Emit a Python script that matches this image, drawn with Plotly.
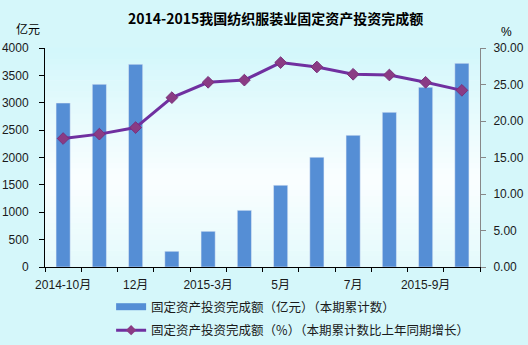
import plotly.graph_objects as go

categories = ["2014-10月", "2014-11月", "2014-12月", "2015-2月", "2015-3月", "2015-4月",
              "2015-5月", "2015-6月", "2015-7月", "2015-8月", "2015-9月", "2015-10月"]
invest_values = [2995, 3337, 3702, 287, 652, 1035, 1492, 2004, 2405, 2825, 3282, 3720]
growth_values = [17.6, 18.2, 19.1, 23.2, 25.3, 25.6, 28.0, 27.4, 26.4, 26.3, 25.3, 24.2]
tick_positions = [0, 2, 4, 6, 8, 10]
tick_labels = ["2014-10月", "12月", "2015-3月", "5月", "7月", "2015-9月"]
left_ticks = [0, 500, 1000, 1500, 2000, 2500, 3000, 3500, 4000]
right_ticks = [0, 5, 10, 15, 20, 25, 30]

bar_name = "固定资产投资完成额（亿元）（本期累计数）"
line_name = "固定资产投资完成额（%）（本期累计数比上年同期增长）"

FONT = "Liberation Sans, Arial, Noto Sans CJK SC"
BAR_C = "#558ed5"
LINE_C = "#7030a0"

xs = list(range(len(categories)))

fig = go.Figure()
fig.add_trace(go.Bar(x=xs, y=invest_values, width=0.39, marker_color=BAR_C,
                     showlegend=False, name=bar_name, customdata=categories))
fig.add_trace(go.Scatter(x=xs, y=growth_values, yaxis="y2", mode="lines+markers",
                         line=dict(color=LINE_C, width=3),
                         marker=dict(symbol="diamond", size=9, color="#8a3b84",
                                     line=dict(color="#7a2f7a", width=1)),
                         showlegend=False, name=line_name, customdata=categories))
# legend proxies
fig.add_trace(go.Scatter(x=[None], y=[None], mode="lines", line=dict(color=BAR_C, width=7),
                         name=bar_name, legend="legend"))
fig.add_trace(go.Scatter(x=[None], y=[None], mode="lines+markers", yaxis="y2",
                         line=dict(color=LINE_C, width=3),
                         marker=dict(symbol="diamond", size=8, color="#8a3b84"),
                         name=line_name, legend="legend2"))

# gradient background bands in plot area
def mix(c1, c2, t):
    return "rgb(%d,%d,%d)" % tuple(round(a + (b - a) * t) for a, b in zip(c1, c2))

top = (210, 247, 251)
mid = (250, 254, 255)
bot = (228, 250, 252)
shapes = []
N = 40
for i in range(N):
    y0 = i / N
    y1 = (i + 1) / N
    yc = (y0 + y1) / 2
    if yc > 0.4:
        col = mix(mid, top, (yc - 0.4) / 0.6)
    else:
        col = mix(bot, mid, yc / 0.4)
    shapes.append(dict(type="rect", xref="paper", yref="paper", x0=0, x1=1, y0=y0, y1=y1 + 0.002,
                       fillcolor=col, line=dict(width=0), layer="below"))

fig.update_layout(
    width=528, height=345,
    margin=dict(l=45, r=48, t=48, b=78, autoexpand=False),
    paper_bgcolor="#d5f7fa",
    plot_bgcolor="#f4fdff",
    shapes=shapes,
    font=dict(family=FONT, size=12, color="#1a1a1a"),
    xaxis=dict(range=[-0.5, 11.5], tickvals=tick_positions, ticktext=tick_labels,
               showgrid=False, zeroline=False, showline=True, linecolor="black", linewidth=1,
               ticks="", tickfont=dict(size=12), ticklabelstandoff=7, automargin=False,
               minor=dict(ticks="outside", tick0=-0.5, dtick=1, ticklen=4, tickcolor="black",
                          showgrid=False)),
    yaxis=dict(range=[0, 4000], tickvals=left_ticks, showgrid=False, zeroline=False,
               showline=True, linecolor="black", linewidth=1, ticks="outside", ticklen=5,
               tickcolor="black", tickfont=dict(size=12), ticklabelstandoff=8, automargin=False),
    yaxis2=dict(range=[0, 30], tickvals=right_ticks, tickformat=".2f", overlaying="y",
                side="right", showgrid=False, zeroline=False, showline=True,
                linecolor="#888888", linewidth=1, ticks="outside", ticklen=5,
                tickcolor="#888888", tickfont=dict(size=12), ticklabelstandoff=5, automargin=False),
    legend=dict(x=0.152, y=-0.183, xanchor="left", yanchor="middle", bgcolor="rgba(0,0,0,0)",
                font=dict(size=12.5, family="Noto Sans CJK SC"), itemwidth=30),
    legend2=dict(x=0.152, y=-0.29, xanchor="left", yanchor="middle", bgcolor="rgba(0,0,0,0)",
                 font=dict(size=12.5, family="Noto Sans CJK SC"), itemwidth=30),
    bargap=0.6,
)

fig.add_annotation(text="<b>2014-2015我国纺织服装业固定资产投资完成额</b>", xref="paper", yref="paper",
                   x=0.529, y=1 + 30 / 219, xanchor="center", yanchor="middle", showarrow=False,
                   font=dict(size=14, family="Noto Sans CJK SC", color="black"))
fig.add_annotation(text="亿元", xref="paper", yref="paper", x=-17 / 435, y=1 + 19 / 219,
                   xanchor="center", yanchor="middle", showarrow=False,
                   font=dict(size=12, family="Noto Sans CJK SC", color="black"))
fig.add_annotation(text="%", xref="paper", yref="paper", x=1 + 26 / 435, y=1 + 16 / 219,
                   xanchor="center", yanchor="middle", showarrow=False,
                   font=dict(size=12, color="black"))

fig.write_html("out.html")
